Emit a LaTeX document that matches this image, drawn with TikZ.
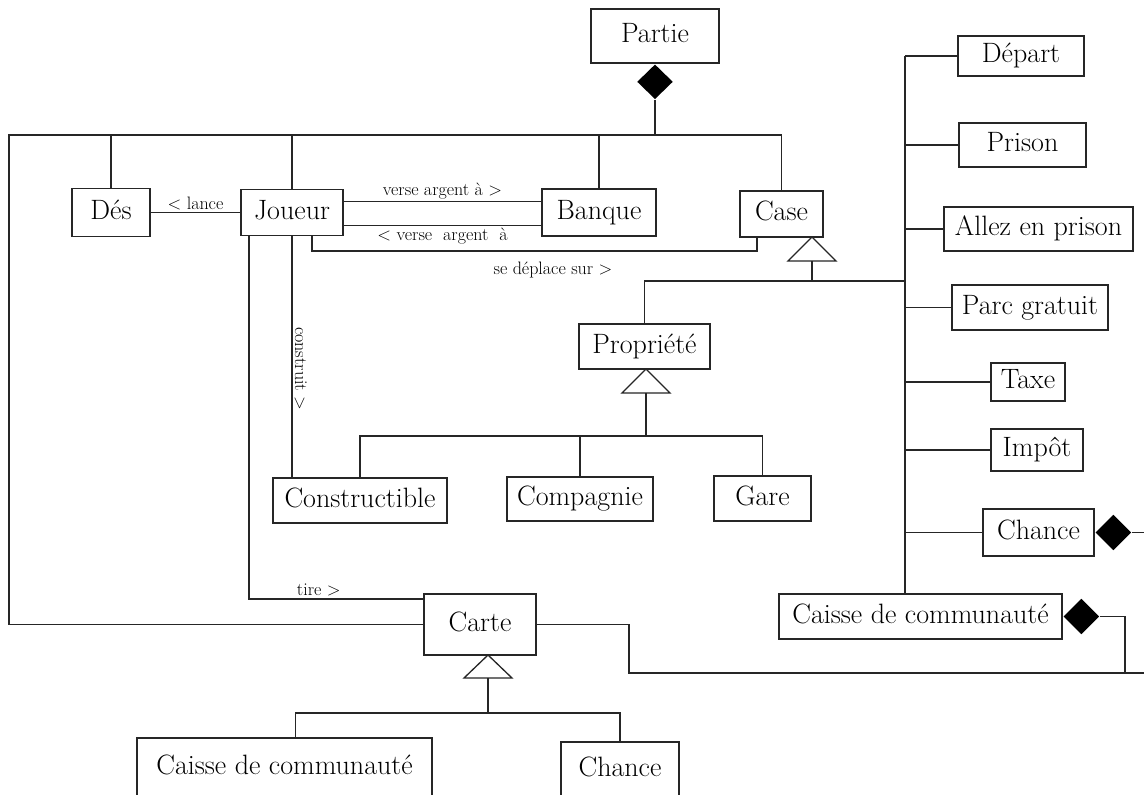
\documentclass[tikz,border=0pt]{standalone}
\usepackage{fontspec}
\usetikzlibrary{shapes.geometric}

\begin{document}
\begin{tikzpicture}[
    x=1pt, y=-1pt,
    line width=1.3pt, draw=black!85,
    classe/.style={draw,inner sep=0pt,text height=19pt,text depth=6pt,font=\fontsize{28}{33}\selectfont},
    lien/.style={inner sep=2pt,font=\fontsize{18}{21}\selectfont},
    compo/.style={diamond,fill=black,inner sep=0pt,minimum width=36pt,minimum height=35pt},
    herit/.style={draw,fill=white}
]
    \path[use as bounding box,clip] (0,0) rectangle (1144,795);

    % Partie on top
    \node[classe,minimum width=128pt,minimum height=54pt] (Partie) at (655,36) {Partie};
    \node[compo,anchor=north] (dP) at (Partie.south) {};

    % first row
    \node[classe,minimum width=78pt,minimum height=48pt] (Des) at (111,212.5) {Dés};
    \node[classe,minimum width=102pt,minimum height=46pt] (Joueur) at (292,212.5) {Joueur};
    \node[classe,minimum width=114pt,minimum height=47pt] (Banque) at (599,212.5) {Banque};
    \node[classe,minimum width=83pt,minimum height=46pt] (Case) at (781.5,214) {Case};

    % proprietes
    \node[classe,minimum width=131pt,minimum height=45pt] (Propriete) at (644.5,346.5) {Propriété};
    \node[classe,minimum width=174pt,minimum height=45pt] (Constructible) at (360,500.5) {Constructible};
    \node[classe,minimum width=146pt,minimum height=44pt] (Compagnie) at (580,499) {Compagnie};
    \node[classe,minimum width=97pt,minimum height=45pt] (Gare) at (762.5,498.5) {Gare};

    % the other cases
    \node[classe,minimum width=126pt,minimum height=40pt] (Depart) at (1021,56) {Départ};
    \node[classe,minimum width=127pt,minimum height=44pt] (Prison) at (1022.5,145) {Prison};
    \node[classe,minimum width=189pt,minimum height=44pt] (Allez) at (1038.5,229) {Allez en prison};
    \node[classe,minimum width=156pt,minimum height=45pt] (Parc) at (1030,307.5) {Parc gratuit};
    \node[classe,minimum width=74pt,minimum height=38pt] (Taxe) at (1028,382) {Taxe};
    \node[classe,minimum width=92pt,minimum height=42pt] (Impot) at (1037,450) {Impôt};
    \node[classe,minimum width=111pt,minimum height=47pt] (ChanceC) at (1038.5,532.5) {Chance};
    \node[classe,minimum width=283pt,minimum height=45pt] (CaisseC) at (920.5,616.5) {Caisse de communauté};
    \node[compo,anchor=west,minimum height=36pt] (dCh) at (ChanceC.east) {};
    \node[compo,anchor=west,minimum height=36pt] (dCa) at (CaisseC.east) {};

    % cartes
    \node[classe,minimum width=112pt,minimum height=61pt] (Carte) at (480,624.5) {Carte};
    \node[classe,minimum width=295pt,minimum height=60pt] (CaisseK) at (284.5,768) {Caisse de communauté};
    \node[classe,minimum width=118pt,minimum height=56pt] (ChanceK) at (620,770) {Chance};

    % composition from Partie
    \coordinate (bus) at (0,135);
    \coordinate (cadre) at (9,135);
    \draw (Carte.west) -| (cadre) -| (Case.north);
    \draw (dP.south) -- (dP.south |- bus);
    \foreach \n in {Des,Joueur,Banque}
        \draw (\n.north) -- (\n.north |- bus);

    % associations of Joueur
    \draw (Des.east) -- (Joueur.west) node[lien,midway,above] (lLance) {< lance};
    \coordinate (jb1) at ([yshift=11pt]Joueur.east);
    \coordinate (jb2) at ([yshift=-13pt]Joueur.east);
    \draw (jb1) -- (jb1 -| Banque.west) node[lien,midway,above] (lVa) {verse argent à >};
    \draw (jb2) -- (jb2 -| Banque.west) node[lien,midway,below] (lVb) {< verse~~argent~~à};
    \coordinate (jd) at ([xshift=20pt]Joueur.south);
    \coordinate (cd) at ([xshift=-24.5pt]Case.south);
    \coordinate (dY) at (0,251);
    \draw (jd) -- (jd |- dY) -| (cd);
    \node[lien] (lDep) at (553,270) {se déplace sur >};
    \draw (Joueur.south) -- (Joueur.south |- Constructible.north)
        node[lien,pos=0.55,rotate=-90,anchor=south] (lCon) {construit >};
    \coordinate (jt) at ([xshift=-43pt]Joueur.south);
    \coordinate (ct) at ([yshift=25.5pt]Carte.west);
    \draw (jt) |- (ct) node[lien,pos=0.7,above] (lTire) {tire >};

    % Case hierarchy
    \coordinate (tCb) at (812,261);
    \draw[herit] (tCb) -- ++(-24,0) -- ++(24,-24) -- ++(24,24) -- cycle;
    \coordinate (sBus) at (905,281);
    \draw (tCb) -- (tCb |- sBus);
    \draw (Propriete.north) |- (sBus);
    \coordinate (colTop) at (905,56);
    \draw (colTop) -- (colTop |- CaisseC.north);
    \foreach \n in {Depart,Prison,Allez,Parc,Taxe,Impot,ChanceC}
        \draw (\n.west) -- (\n.west -| colTop);

    % Propriete hierarchy
    \coordinate (tPb) at (646,393);
    \draw[herit] (tPb) -- ++(-24,0) -- ++(24,-24) -- ++(24,24) -- cycle;
    \coordinate (pBus) at (0,436);
    \draw (tPb) -- (tPb |- pBus);
    \draw (Constructible.north) |- (Gare.north |- pBus) -- (Gare.north);
    \draw (Compagnie.north) -- (Compagnie.north |- pBus);

    % Carte hierarchy
    \coordinate (tKb) at (488,678);
    \draw[herit] (tKb) -- ++(-24,0) -- ++(24,-23) -- ++(24,23) -- cycle;
    \coordinate (kBus) at (0,713);
    \draw (tKb) -- (tKb |- kBus);
    \draw ([xshift=11pt]CaisseK.north) |- (ChanceK.north |- kBus) -- (ChanceK.north);

    % links to the right border
    \coordinate (rim) at (1150,0);
    \coordinate (kJ) at (1125,673);
    \coordinate (kR) at (629,673);
    \draw (dCh.east) -- (dCh.east -| rim);
    \draw (dCa.east) -| (kJ);
    \draw (Carte.east) -| (kR) -- (kR -| rim);
\end{tikzpicture}
\end{document}
